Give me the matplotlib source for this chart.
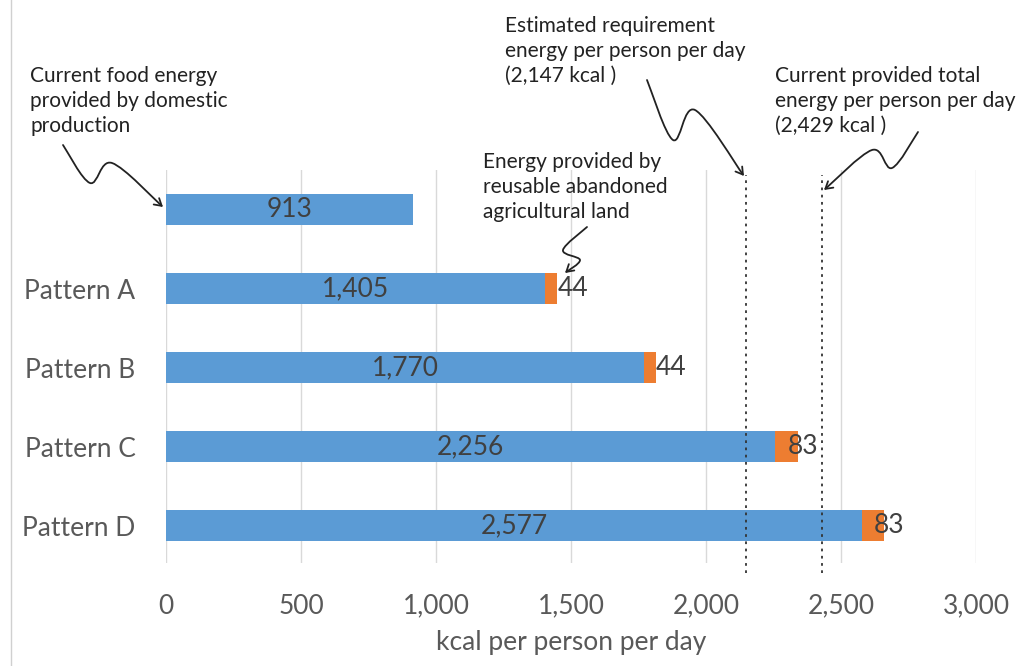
import matplotlib.pyplot as plt
from matplotlib.patches import FancyArrowPatch
from matplotlib.path import Path
from matplotlib.lines import Line2D
from matplotlib.ticker import FuncFormatter

# data
categories = ['', 'Pattern A', 'Pattern B', 'Pattern C', 'Pattern D']
domestic = [913, 1405, 1770, 2256, 2577]
abandoned = [0, 44, 44, 83, 83]
requirement = 2147
current_total = 2429

blue = '#5B9BD5'
orange = '#ED7D31'

plt.rcParams['font.family'] = ['Lato', 'DejaVu Sans']

W, H = 1024, 666
fig = plt.figure(figsize=(W / 100, H / 100), dpi=100)
ax = fig.add_axes([166 / W, 1 - 563 / H, (976 - 166) / W, (563 - 170) / H])

y = list(range(len(categories)))
ax.barh(y, domestic, height=0.39, color=blue, zorder=3)
ax.barh(y, abandoned, left=domestic, height=0.39, color=orange, zorder=3)

for i in y:
    ax.text(domestic[i] / 2, i, f'{domestic[i]:,}', ha='center', va='center',
            fontsize=19, color='#404040', zorder=4)
    if abandoned[i]:
        # small segments: label right after the bar, wider ones overlap a little
        shift = -10 if abandoned[i] > 60 else 0
        ax.annotate(f'{abandoned[i]}', (domestic[i] + abandoned[i], i),
                    xytext=(shift * 0.72, 0), textcoords='offset points',
                    ha='left', va='center', fontsize=19, color='#404040', zorder=4)

for v in (requirement, current_total):
    ax.axvline(v, ymin=-0.025, ymax=0.987, color='#333333', lw=1.3,
               linestyle=(0, (1.5, 2.5)), clip_on=False, zorder=5)

ax.set_xlim(0, 3000)
ax.set_ylim(len(categories) - 0.53, -0.5)
ax.set_yticks(y)
ax.set_yticklabels(categories, fontsize=19, color='#595959')
ax.set_xticks(range(0, 3001, 500))
ax.xaxis.set_major_formatter(FuncFormatter(lambda v, p: f'{int(v):,}'))
ax.tick_params(axis='x', labelsize=19, labelcolor='#595959', length=0, pad=22)
ax.tick_params(axis='y', length=0, pad=22)
ax.grid(axis='x', color='#D9D9D9', lw=1, zorder=0)
for s in ax.spines.values():
    s.set_visible(False)
ax.set_xlabel('kcal per person per day', fontsize=19, color='#595959', labelpad=8)

# faint border on the left
fig.add_artist(Line2D([11 / W, 11 / W], [0, 1], color='#D0D0D0', lw=1))


def px(x, yy):
    return (x / W, 1 - yy / H)


def squiggle(points):
    pts = [px(*p) for p in points]
    verts = [pts[0]]
    codes = [Path.MOVETO]
    ext = [pts[0]] + pts + [pts[-1]]
    for k in range(1, len(ext) - 2):
        p0, p1, p2, p3 = ext[k - 1], ext[k], ext[k + 1], ext[k + 2]
        c1 = (p1[0] + (p2[0] - p0[0]) / 6, p1[1] + (p2[1] - p0[1]) / 6)
        c2 = (p2[0] - (p3[0] - p1[0]) / 6, p2[1] - (p3[1] - p1[1]) / 6)
        verts += [c1, c2, p2]
        codes += [Path.CURVE4] * 3
    arrow = FancyArrowPatch(path=Path(verts, codes), arrowstyle='->,head_length=5,head_width=3',
                            color='#222222', lw=1.3, transform=fig.transFigure)
    fig.add_artist(arrow)


squiggle([(63, 145), (90, 183), (112, 163), (163, 207)])
squiggle([(647, 80), (673, 140), (695, 110), (744, 176)])
squiggle([(918, 132), (892, 168), (872, 150), (824, 190)])
squiggle([(587, 227), (563, 250), (580, 260), (565, 273)])

note_kw = dict(fontsize=15, color='#222222', va='center', ha='left', linespacing=1.3)
fig.text(*px(30, 101), 'Current food energy\nprovided by domestic\nproduction', **note_kw)
fig.text(*px(505, 51), 'Estimated requirement\nenergy per person per day\n(2,147 kcal )', **note_kw)
fig.text(*px(775, 101), 'Current provided total\nenergy per person per day\n(2,429 kcal )', **note_kw)
fig.text(*px(483, 187), 'Energy provided by\nreusable abandoned\nagricultural land', **note_kw)

fig.savefig('out.png', dpi=100)
